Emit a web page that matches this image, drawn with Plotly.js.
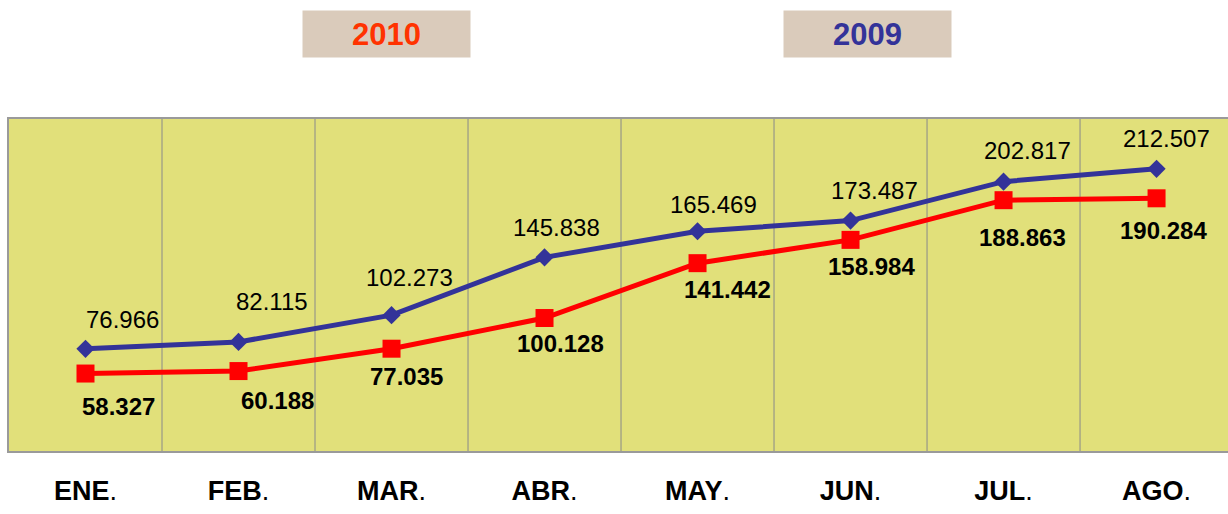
<!DOCTYPE html>
<html>
<head>
<meta charset="utf-8">
<script src="https://cdn.plot.ly/plotly-3.0.1.min.js"></script>
<style>html,body{margin:0;padding:0;background:#fff;}#chart{width:1228px;height:514px;}</style>
</head>
<body>
<div id="chart"></div>
<script>
// ---- data ----
var months = ["ENE", "FEB", "MAR", "ABR", "MAY", "JUN", "JUL", "AGO"];
var values2010 = [58327, 60188, 77035, 100128, 141442, 158984, 188863, 190284];
var values2009 = [76966, 82115, 102273, 145838, 165469, 173487, 202817, 212507];
var seriesNames = ["2010", "2009"];

// ---- style: label offsets (pixels) ----
var off2009 = [[37,29],[33,40],[18,38],[12,30],[16,27],[24,30],[24,31],[10,30]];
var off2010 = [[33,-33],[39,-29],[15,-28],[16,-25],[30,-26],[21,-27],[19,-37],[7,-32]];

function fmt(v){
  return String(v).replace(/\B(?=(\d{3})+(?!\d))/g, ".");
}

var FONT = "Liberation Sans, Arial, sans-serif";
var xIdx = months.map(function(_, i){ return i; });

var trace2009 = {
  x: xIdx, y: values2009, name: seriesNames[1], type: "scatter", mode: "lines+markers",
  line: {color: "#333399", width: 5},
  marker: {symbol: "diamond", size: 14, color: "#333399"},
  cliponaxis: false, hoverinfo: "skip"
};
var trace2010 = {
  x: xIdx, y: values2010, name: seriesNames[0], type: "scatter", mode: "lines+markers",
  line: {color: "#FF0000", width: 5},
  marker: {symbol: "square", size: 18, color: "#FF0000"},
  cliponaxis: false, hoverinfo: "skip"
};

var annotations = [];
values2009.forEach(function(v, i){
  annotations.push({x: i, y: v, xref: "x", yref: "y", text: fmt(v), showarrow: false,
    xshift: off2009[i][0], yshift: off2009[i][1],
    font: {family: FONT, size: 24, color: "#000"}});
});
values2010.forEach(function(v, i){
  annotations.push({x: i, y: v, xref: "x", yref: "y", text: "<b>" + fmt(v) + "</b>", showarrow: false,
    xshift: off2010[i][0], yshift: off2010[i][1],
    font: {family: FONT, size: 24, color: "#000"}});
});
// legend boxes
annotations.push({xref: "paper", yref: "paper", x: 0.3097, y: 1.256, text: "<b>" + seriesNames[0] + "</b>",
  showarrow: false, width: 167, height: 46, borderpad: 0, bgcolor: "#DACBBB",
  font: {family: FONT, size: 31, color: "#FF3300"}, xanchor: "center", yanchor: "middle"});
annotations.push({xref: "paper", yref: "paper", x: 0.7039, y: 1.256, text: "<b>" + seriesNames[1] + "</b>",
  showarrow: false, width: 167, height: 46, borderpad: 0, bgcolor: "#DACBBB",
  font: {family: FONT, size: 31, color: "#333399"}, xanchor: "center", yanchor: "middle"});

var shapes = [];
for (var i = 0; i < months.length - 1; i++) {
  shapes.push({type: "line", xref: "x", yref: "paper", x0: i + 0.5, x1: i + 0.5, y0: 0, y1: 1,
    line: {color: "#8A8A8A", width: 1}, layer: "below"});
}

var layout = {
  width: 1228, height: 514,
  margin: {l: 9, r: 0, t: 119, b: 63, pad: 0},
  paper_bgcolor: "#FFFFFF", plot_bgcolor: "#E1E07A",
  showlegend: false,
  xaxis: {
    range: [-0.5, 7.467], tickmode: "array", tickvals: xIdx,
    ticktext: months.map(function(m){ return "<b>" + m + "</b>."; }),
    showgrid: false, zeroline: false, ticks: "",
    showline: true, mirror: true, linecolor: "#9A9A9A", linewidth: 2,
    tickfont: {family: FONT, size: 27, color: "#000"},
    ticklabelstandoff: 15
  },
  yaxis: {
    range: [0, 250000], showgrid: false, zeroline: false, showticklabels: false, ticks: "",
    showline: true, linecolor: "#9A9A9A", linewidth: 2
  },
  annotations: annotations,
  shapes: shapes
};

Plotly.newPlot("chart", [trace2009, trace2010], layout, {displayModeBar: false, staticPlot: true});
</script>
</body>
</html>
